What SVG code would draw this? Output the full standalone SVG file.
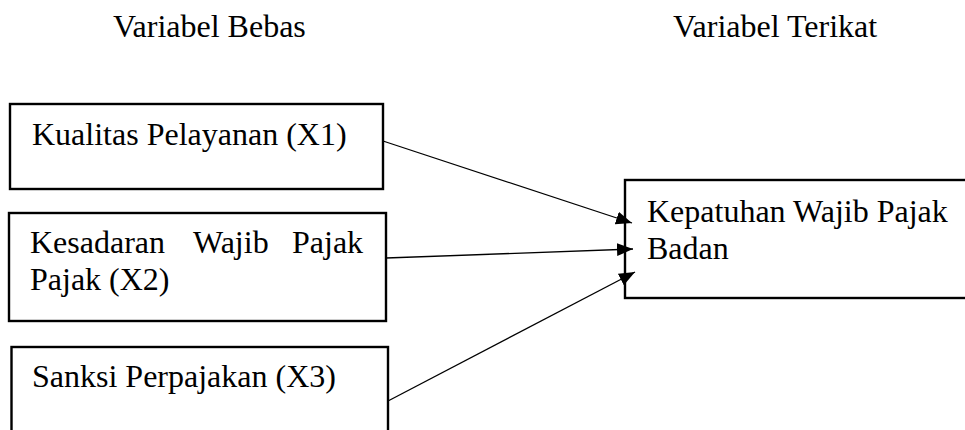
<svg xmlns="http://www.w3.org/2000/svg" width="965" height="430" viewBox="0 0 965 430">
<style>
text{font-family:"Liberation Serif","Times New Roman",serif;font-size:32px;fill:#000}
.box{fill:#fff;stroke:#000;stroke-width:2.4}
.edge{stroke:#000;stroke-width:1.3;fill:none;marker-end:url(#ah)}
</style>
<defs>
<marker id="ah" markerUnits="userSpaceOnUse" markerWidth="18" markerHeight="14" refX="16" refY="6.5" orient="auto">
<path d="M0,0 L16,6.5 L0,13 Z" fill="#000"/>
</marker>
</defs>
<rect width="965" height="430" fill="#fff"/>
<text x="113" y="37">Variabel Bebas</text>
<text x="673" y="37">Variabel Terikat</text>
<g id="x1">
<rect class="box" x="10" y="104" width="373" height="85"/>
<text x="32" y="145">Kualitas Pelayanan (X1)</text>
</g>
<g id="x2">
<rect class="box" x="9" y="213" width="377" height="108"/>
<text y="253"><tspan x="30">Kesadaran</tspan><tspan x="193">Wajib</tspan><tspan x="292">Pajak</tspan></text>
<text x="30" y="290">Pajak (X2)</text>
</g>
<g id="x3">
<rect class="box" x="11.5" y="347" width="376.5" height="100"/>
<text x="32" y="387">Sanksi Perpajakan (X3)</text>
</g>
<g id="y">
<rect class="box" x="625" y="180" width="345" height="118"/>
<text x="647" y="222">Kepatuhan Wajib Pajak</text>
<text x="647" y="259">Badan</text>
</g>
<g id="connectors">
<line class="edge" x1="383" y1="141" x2="632" y2="223"/>
<line class="edge" x1="386" y1="258" x2="633" y2="249"/>
<line class="edge" x1="388" y1="401" x2="635" y2="272"/>
</g>
</svg>
